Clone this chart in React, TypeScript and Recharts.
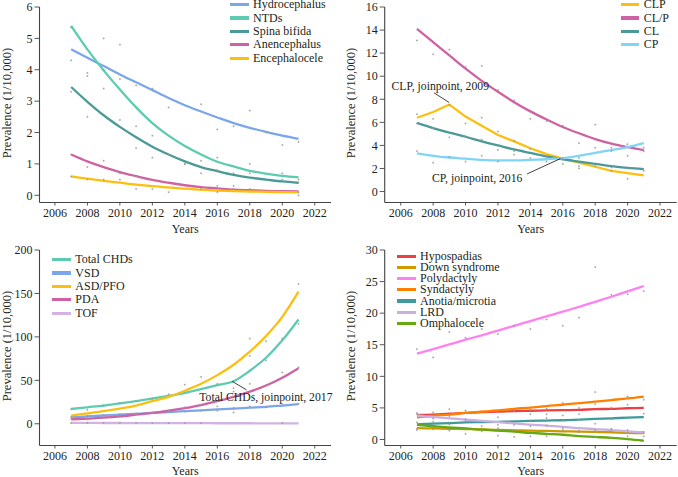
import {
  ComposedChart,
  Line,
  Scatter,
  XAxis,
  YAxis,
  Legend,
  ReferenceLine,
  ReferenceDot,
} from 'recharts'

const years = [2007, 2008, 2009, 2010, 2011, 2012, 2013, 2014, 2015, 2016, 2017, 2018, 2019, 2020, 2021]
const yearTicks = [2006, 2008, 2010, 2012, 2014, 2016, 2018, 2020, 2022]

// neural tube
const hydrocephalus = [4.65, 4.38, 4.12, 3.85, 3.6, 3.35, 3.1, 2.87, 2.67, 2.48, 2.3, 2.15, 2.02, 1.9, 1.8]
const ntds = [5.4, 4.65, 3.98, 3.37, 2.8, 2.3, 1.9, 1.57, 1.3, 1.07, 0.92, 0.78, 0.69, 0.62, 0.57]
const spinaBifida = [3.45, 2.98, 2.55, 2.18, 1.85, 1.55, 1.3, 1.08, 0.9, 0.77, 0.65, 0.56, 0.5, 0.44, 0.4]
const anencephalus = [1.3, 1.08, 0.9, 0.74, 0.61, 0.49, 0.4, 0.32, 0.26, 0.22, 0.18, 0.16, 0.14, 0.13, 0.12]
const encephalocele = [0.6, 0.53, 0.46, 0.4, 0.34, 0.29, 0.25, 0.21, 0.18, 0.15, 0.13, 0.12, 0.11, 0.1, 0.09]
const neuralObserved = [
  [4.3, 3.9, 5.0, 4.8, 3.5, 3.4, 2.8, null, 2.9, 2.1, 2.2, 2.7, 2.0, 1.6, 1.7],
  [5.35, 3.8, 4.0, 3.7, 2.2, 1.9, 1.3, 1.0, 1.1, 1.2, 0.7, 1.0, null, 0.7, 0.5],
  [3.3, 2.5, 3.4, 2.4, 1.5, 1.2, null, 1.0, 0.7, 0.8, 0.3, 0.7, null, 0.5, 0.4],
  [1.3, 0.9, 1.1, 0.7, 0.6, null, null, null, 0.2, 0.3, 0.2, 0.2, null, null, 0.1],
  [0.6, 0.5, 0.5, 0.5, 0.2, 0.2, 0.1, null, null, 0.1, null, null, null, null, 0.0],
]

// clefts
const clp = [6.4, 6.9, 7.55, 6.5, 5.7, 4.9, 4.35, 3.75, 3.25, 2.85, 2.5, 2.15, 1.8, 1.6, 1.4]
const clOrP = [14.1, 12.95, 11.8, 10.65, 9.6, 8.65, 7.75, 6.95, 6.25, 5.6, 5.05, 4.55, 4.15, 3.85, 3.6]
const cl = [5.95, 5.5, 5.1, 4.75, 4.35, 4.0, 3.65, 3.35, 3.05, 2.8, 2.6, 2.4, 2.2, 2.05, 1.95]
const cp = [3.3, 3.1, 2.95, 2.85, 2.75, 2.7, 2.7, 2.75, 2.8, 2.9, 3.1, 3.35, 3.6, 3.85, 4.2]
const cleftObserved = [
  [13.1, 11.9, 12.3, 10.8, 10.9, 8.8, 7.9, 6.3, 6.1, 5.7, 4.2, 5.8, 3.8, 4.1, 3.8],
  [6.7, 6.3, 7.5, 5.9, 6.4, 5.2, 4.4, 3.7, 3.0, 2.9, 2.9, 3.8, 3.5, 3.1, 3.5],
  [5.9, 5.5, 4.7, 4.8, 4.5, 3.6, 3.5, 2.9, 2.6, 2.4, 2.2, 2.2, 2.1, 2.0, 1.8],
  [3.5, 2.5, 3.0, 2.6, 3.1, 2.6, 3.2, null, null, null, 2.0, null, 1.8, 1.1, null],
]

// heart
const totalChds = [17, 19, 21, 23.5, 26, 29, 32, 35.5, 40, 44.5, 49, 61, 76, 96, 120]
const vsd = [7.5, 8.5, 9.5, 10.5, 11.5, 12.5, 13.5, 14.5, 15.5, 16.5, 17.5, 18.5, 19.5, 21, 22.5]
const asdPfo = [9.5, 12, 14.5, 17.5, 21, 26, 31, 38, 46, 56, 68, 83, 101, 123, 152]
const pda = [5, 6, 7, 8.5, 10.5, 12.5, 15, 18, 21.5, 26, 31, 37, 44, 53, 64]
const tof = [1, 1, 0.9, 0.9, 0.8, 0.8, 0.7, 0.7, 0.7, 0.6, 0.6, 0.6, 0.5, 0.5, 0.5]
const heartObserved = [
  [17, 16, 21, 24, 26, 29, 34, 45, 54, 46, 41, 98, 95, 98, 161],
  [8, 9, 10, 11, 12, 13, 15, 19, 22, 26, 37, 78, 73, 59, 115],
  [6, 5, 7, 8, 11, 12, 14, 14, 15, 20, 18, 46, 44, 23, 65],
  [1, 1, 1, 1, 1, 1, 1, 1, 1, 15, 13, 20, 19, 1, 23],
]

// other anomalies
const hypospadias = [3.9, 3.95, 4.1, 4.2, 4.35, 4.4, 4.5, 4.55, 4.6, 4.65, 4.7, 4.8, 4.85, 4.95, 5.0]
const downSyndrome = [1.8, 1.75, 1.7, 1.65, 1.6, 1.5, 1.45, 1.4, 1.35, 1.3, 1.25, 1.2, 1.15, 1.05, 1.0]
const polydactyly = [13.6, 14.3, 15.05, 15.8, 16.5, 17.25, 18.0, 18.75, 19.5, 20.25, 21, 21.8, 22.6, 23.45, 24.3]
const syndactyly = [3.5, 3.75, 3.95, 4.2, 4.4, 4.6, 4.85, 5.05, 5.3, 5.5, 5.75, 6.0, 6.25, 6.5, 6.8]
const anotia = [2.4, 2.5, 2.6, 2.7, 2.75, 2.8, 2.85, 2.95, 3.0, 3.05, 3.15, 3.25, 3.35, 3.45, 3.55]
const lrd = [3.8, 3.55, 3.35, 3.15, 2.95, 2.75, 2.55, 2.35, 2.2, 2.0, 1.8, 1.65, 1.5, 1.3, 1.15]
const omphalocele = [2.3, 2.1, 1.9, 1.75, 1.55, 1.4, 1.25, 1.05, 0.9, 0.75, 0.55, 0.4, 0.25, 0.05, -0.2]
const otherObserved = [
  [14.3, 13.0, 17.0, 16.1, 17.5, 16.7, 18.0, 17.5, 19.0, 18.0, 19.3, 27.3, 22.9, 23.0, 23.5],
  [4.2, 4.3, 4.8, 4.6, 2.1, 3.5, 4.5, 4.7, 4.9, 5.8, 5.0, 7.5, 5.0, 6.8, 6.3],
  [4.0, 3.3, 3.7, 3.2, 1.3, 2.3, 2.3, 4.0, 4.0, 3.8, 4.0, 5.6, 3.2, 5.5, 4.1],
  [2.7, 2.8, 2.4, 2.9, null, 1.8, 1.5, 3.0, 3.4, 3.0, 3.1, 2.5, 1.7, 1.5, 1.2],
  [1.7, 1.6, 1.4, 0.9, null, 0.6, 0.4, 2.1, 2.2, 1.8, 1.4, 1.5, 1.3, 1.0, 1.0],
  [1.5, null, null, null, null, null, null, 0.5, 0.5, 1.5, 1.2, 0.4, 0.3, 0.5, 0.5],
]

const FONT = '"Liberation Serif", serif'
const INK = '#231f20'

function Dot({ cx, cy }: any) {
  if (typeof cy !== 'number' || typeof cx !== 'number') return null
  return (
    <path
      d={`M${cx - 1} ${cy}H${cx + 1}M${cx} ${cy - 1}V${cy + 1}`}
      stroke="#9a9a9a"
      strokeWidth={0.7}
    />
  )
}

function LegendList({ items, rowHeight }: any) {
  return (
    <div>
      {items.map((s: any) => (
        <div key={s.name} style={{ display: 'flex', alignItems: 'center', height: rowHeight }}>
          <span style={{ width: 18.5, height: 3.2, background: s.color, marginRight: 4.5 }} />
          <span style={{ fontFamily: FONT, fontSize: 12, color: INK, whiteSpace: 'nowrap' }}>{s.name}</span>
        </div>
      ))}
    </div>
  )
}

function Panel({ left, top, height, plot, xDomain, yDomain, yTicks, series, observed, legend, labelDx, yearsOffset, children }: any) {
  const rows = years.map((year, i) => {
    const row: any = { year }
    series.forEach((s: any) => { row[s.name] = s.values[i] })
    observed.forEach((o: any, k: number) => { row[`obs${k}`] = o[i] })
    return row
  })
  const tick = { fill: INK, fontSize: 12, fontFamily: FONT }
  const axisLine = { stroke: '#444', strokeWidth: 1.1 }
  const tickLine = { stroke: '#444', strokeWidth: 0.9 }

  return (
    <div style={{ position: 'absolute', left, top }}>
      <ComposedChart
        width={339}
        height={height}
        data={rows}
        margin={{ top: plot.top, right: plot.right, bottom: 0, left: 0 }}
      >
        <XAxis
          dataKey="year"
          type="number"
          domain={xDomain}
          ticks={yearTicks}
          allowDataOverflow
          interval={0}
          height={height - plot.bottom}
          tick={tick}
          tickLine={tickLine}
          tickSize={3}
          tickMargin={3}
          axisLine={axisLine}
          label={{ value: 'Years', position: 'insideBottom', offset: yearsOffset, fill: INK, fontSize: 12, fontFamily: FONT }}
        />
        <YAxis
          type="number"
          domain={yDomain}
          ticks={yTicks}
          allowDataOverflow
          interval={0}
          width={plot.left}
          tick={tick}
          tickLine={tickLine}
          tickSize={5}
          tickMargin={2}
          axisLine={axisLine}
          label={{
            value: 'Prevalence (1/10,000)',
            angle: -90,
            position: 'insideLeft',
            dx: labelDx,
            dy: 53.5,
            fill: INK,
            fontSize: 12.5,
            fontFamily: FONT,
          }}
        />
        {observed.map((_: any, k: number) => (
          <Scatter key={k} dataKey={`obs${k}`} legendType="none" shape={<Dot />} isAnimationActive={false} />
        ))}
        {series.map((s: any) => (
          <Line
            key={s.name}
            type={s.curve ?? 'monotone'}
            dataKey={s.name}
            stroke={s.color}
            strokeWidth={2.3}
            dot={false}
            isAnimationActive={false}
          />
        ))}
        {children}
        <Legend
          layout="vertical"
          align="center"
          verticalAlign="middle"
          wrapperStyle={{ left: legend.left, top: legend.top, width: 110, height: 'auto', bottom: 'auto', right: 'auto' }}
          content={() => <LegendList items={series} rowHeight={legend.rowHeight} />}
        />
      </ComposedChart>
    </div>
  )
}

function note(text: string, x: number, y: number) {
  return (
    <ReferenceDot
      x={x}
      y={y}
      r={0}
      fill="none"
      stroke="none"
      ifOverflow="visible"
      label={{ value: text, position: 'center', fill: INK, fontSize: 11.7, fontFamily: FONT }}
    />
  )
}

function leader(x1: number, y1: number, x2: number, y2: number) {
  return (
    <ReferenceLine
      segment={[{ x: x1, y: y1 }, { x: x2, y: y2 }]}
      stroke="#111"
      strokeWidth={0.8}
      ifOverflow="visible"
    />
  )
}

export default function App() {
  return (
    <div style={{ position: 'absolute', left: 0, top: 0, width: 678, height: 477 }}>
      <Panel
        left={0}
        top={0}
        height={238}
        plot={{ top: 7, bottom: 202.5, left: 39.5, right: 8 }}
        xDomain={[2005.05, 2023]}
        yDomain={[-0.23, 6]}
        yTicks={[0, 1, 2, 3, 4, 5, 6]}
        labelDx={2}
        yearsOffset={5}
        series={[
          { name: 'Hydrocephalus', values: hydrocephalus, color: '#7ba7ea' },
          { name: 'NTDs', values: ntds, color: '#5ccbb0' },
          { name: 'Spina bifida', values: spinaBifida, color: '#4b9a97' },
          { name: 'Anencephalus', values: anencephalus, color: '#ce62a3' },
          { name: 'Encephalocele', values: encephalocele, color: '#fdbf0e' },
        ]}
        observed={neuralObserved}
        legend={{ left: 230, top: -2, rowHeight: 13.4 }}
      />
      <Panel
        left={339}
        top={0}
        height={238}
        plot={{ top: 7, bottom: 202.5, left: 45.7, right: 1.3 }}
        xDomain={[2005.01, 2023.03]}
        yDomain={[-0.95, 16]}
        yTicks={[0, 2, 4, 6, 8, 10, 12, 14, 16]}
        labelDx={7}
        yearsOffset={5}
        series={[
          { name: 'CLP', values: clp, color: '#fdbf0e', curve: 'linear' },
          { name: 'CL/P', values: clOrP, color: '#ce62a3' },
          { name: 'CL', values: cl, color: '#4b9a97' },
          { name: 'CP', values: cp, color: '#80d4f5' },
        ]}
        observed={cleftObserved}
        legend={{ left: 281.7, top: -2, rowHeight: 13.4 }}
      >
        {leader(2008.05, 8.56, 2008.98, 7.73)}
        {leader(2013.8, 1.53, 2015.86, 2.86)}
        {note('CLP, joinpoint, 2009', 2008.44, 9.14)}
        {note('CP, joinpoint, 2016', 2010.72, 1.19)}
      </Panel>
      <Panel
        left={0}
        top={238}
        height={239}
        plot={{ top: 12, bottom: 207.5, left: 39.5, right: 8 }}
        xDomain={[2005.05, 2023]}
        yDomain={[-25, 200]}
        yTicks={[0, 50, 100, 150, 200]}
        labelDx={2}
        yearsOffset={2}
        series={[
          { name: 'Total CHDs', values: totalChds, color: '#5ccbb0' },
          { name: 'VSD', values: vsd, color: '#7ba7ea' },
          { name: 'ASD/PFO', values: asdPfo, color: '#fdbf0e' },
          { name: 'PDA', values: pda, color: '#ce62a3' },
          { name: 'TOF', values: tof, color: '#d3b3e2' },
        ]}
        observed={heartObserved}
        legend={{ left: 52.3, top: 15, rowHeight: 13.4 }}
      >
        {leader(2017.8, 39, 2016.92, 48.8)}
        {note('Total CHDs, joinpoint, 2017', 2018.99, 31.5)}
      </Panel>
      <Panel
        left={339}
        top={238}
        height={239}
        plot={{ top: 12, bottom: 207.5, left: 45.7, right: 1.3 }}
        xDomain={[2005.01, 2023.03]}
        yDomain={[-0.95, 30]}
        yTicks={[0, 5, 10, 15, 20, 25, 30]}
        labelDx={7}
        yearsOffset={2}
        series={[
          { name: 'Hypospadias', values: hypospadias, color: '#ec4045' },
          { name: 'Down syndrome', values: downSyndrome, color: '#cc9900' },
          { name: 'Polydactyly', values: polydactyly, color: '#ff80f0' },
          { name: 'Syndactyly', values: syndactyly, color: '#ff8000' },
          { name: 'Anotia/microtia', values: anotia, color: '#3f9a9a' },
          { name: 'LRD', values: lrd, color: '#c9b0e0' },
          { name: 'Omphalocele', values: omphalocele, color: '#66a80f' },
        ]}
        observed={otherObserved}
        legend={{ left: 58, top: 12.7, rowHeight: 11.2 }}
      />
    </div>
  )
}
